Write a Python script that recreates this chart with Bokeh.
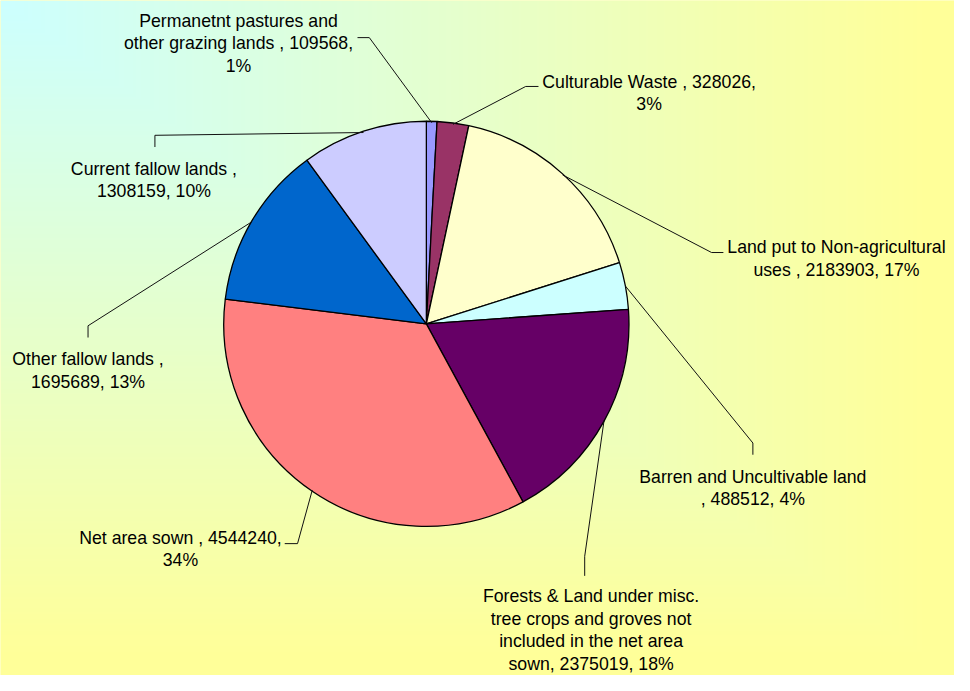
import numpy as np
from bokeh.plotting import figure
from bokeh.models import Range1d
from bokeh.core.properties import value
from bokeh.embed import file_html
from bokeh.resources import INLINE

# ---------------- data ----------------
categories = [
    "Permanetnt pastures and other grazing lands ",
    "Culturable Waste ",
    "Land put to Non-agricultural uses ",
    "Barren and Uncultivable land ",
    "Forests & Land under misc. tree crops and groves not included in the net area sown",
    "Net area sown ",
    "Other fallow lands ",
    "Current fallow lands ",
]
areas = [109568, 328026, 2183903, 488512, 2375019, 4544240, 1695689, 1308159]
pct_labels = [1, 3, 17, 4, 18, 34, 13, 10]
colors = ["#9999FF", "#993366", "#FFFFCC", "#CCFFFF", "#660066", "#FF8080", "#0066CC", "#CCCCFF"]

# ---------------- layout (reference pixel coordinates, y down) ----------------
REF_W, REF_H = 970, 691
CX, CY, R = 433, 331, 206
words_per_line = [[3, 5, 1], [4, 1], [4, 4], [4, 3], [5, 5, 5, 3], [5, 1], [4, 2], [4, 2]]
label_x = [242, 659.5, 850, 765, 600.5, 183, 89, 156]
label_base = [20.7, 83.3, 252.7, 487.7, 610.0, 550, 367.3, 172.3]
LINE_H = 23
leader_anchor = [
    [(363, 38), (375, 38)],
    [(547, 88), (534, 88)],
    [(735, 258), (723, 258)],
    [(765, 465), (765, 453)],
    [(594, 589), (594, 569)],
    [(289, 556), (302, 556)],
    [(89, 345), (89, 333)],
    [(157, 150), (157, 138)],
]


def Y(y):
    return REF_H - y


PW, PH = 954, 675
p = figure(width=PW, height=PH, x_range=Range1d(0, REF_W), y_range=Range1d(0, REF_H),
           output_backend="svg", toolbar_location=None, min_border=0,
           x_axis_location=None, y_axis_location=None)
p.grid.visible = False
p.outline_line_color = None
p.background_fill_color = "#FFFF99"
p.border_fill_color = "#FFFF99"

# background gradient (from top-left corner)
nx, ny = 324, 231
gx = (np.arange(nx) + 0.5) * REF_W / nx
gy = REF_H - (np.arange(ny) + 0.5) * REF_H / ny
t = np.maximum(gx[None, :] / REF_W, gy[:, None] / REF_H)
t = np.clip(t / 0.97, 0, 1)
c0 = np.array([204, 255, 255], float)
c1 = np.array([255, 255, 153], float)
rgb = c0[None, None, :] + (c1 - c0)[None, None, :] * t[:, :, None]
img = np.empty((ny, nx, 4), dtype=np.uint8)
img[:, :, :3] = np.round(rgb).astype(np.uint8)
img[:, :, 3] = 255
img32 = img.view(dtype=np.uint32).reshape(ny, nx)
p.image_rgba(image=[img32], x=0, y=0, dw=REF_W, dh=REF_H)

# pie
vals = np.array(areas, float)
frac = vals / vals.sum()
cum = np.concatenate([[0], np.cumsum(frac)])
start = np.pi / 2 - 2 * np.pi * cum[:-1]
end = np.pi / 2 - 2 * np.pi * cum[1:]
p.wedge(x=CX, y=Y(CY), radius=R, start_angle=start, end_angle=end, direction="clock",
        fill_color=colors, line_color="black", line_width=1.3)

# leader lines
mid = 2 * np.pi * (cum[:-1] + cum[1:]) / 2
xs, ys = [], []
for i, anchors in enumerate(leader_anchor):
    ex = CX + R * np.sin(mid[i])
    ey = CY - R * np.cos(mid[i])
    pts = anchors + [(ex, ey)]
    xs.append([q[0] for q in pts])
    ys.append([Y(q[1]) for q in pts])
p.multi_line(xs=xs, ys=ys, line_color="#111111", line_width=1)

# labels
tx, ty, tt = [], [], []
for i, cat in enumerate(categories):
    label = f"{cat}, {areas[i]}, {pct_labels[i]}%"
    words = label.split()
    k = 0
    for j, n in enumerate(words_per_line[i]):
        line = " ".join(words[k:k + n])
        k += n
        tx.append(label_x[i])
        ty.append(Y(label_base[i] + j * LINE_H))
        tt.append(line)
p.text(x=tx, y=ty, text=tt, text_align="center", text_baseline="alphabetic",
       text_font=value("Liberation Sans"), text_font_size="17.7px", text_color="#000000")

open("out.html", "w").write(file_html(p, INLINE))
